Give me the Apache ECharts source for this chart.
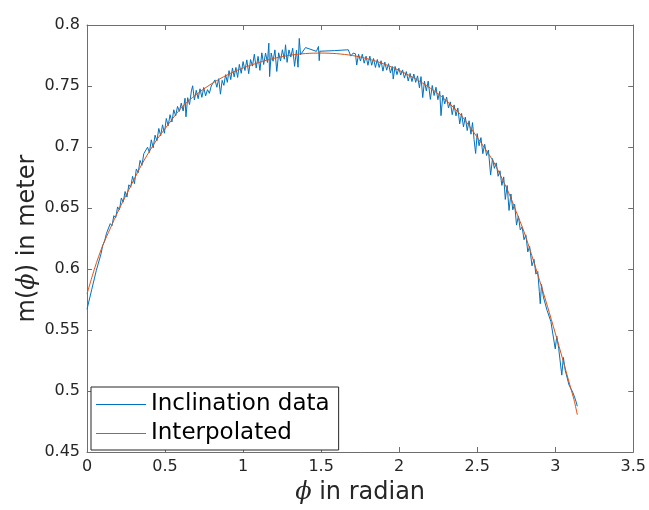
<!DOCTYPE html>
<html>
<head>
<meta charset="utf-8">
<script src="https://cdn.jsdelivr.net/npm/echarts@6/dist/echarts.min.js"></script>
<style>
html, body { margin: 0; padding: 0; background: #fff; }
#main { width: 649px; height: 510px; }
</style>
</head>
<body>
<div id="main"></div>
<script>
// measured inclination samples (phi in rad, m in meter)
var phiData = [
	0, 0.03, 0.06, 0.09, 0.10, 0.113, 0.125, 0.137, 0.149, 0.160, 0.172, 0.184, 0.196, 0.208, 0.220, 0.232,
	0.244, 0.256, 0.268, 0.280, 0.292, 0.304, 0.316, 0.328, 0.340, 0.352, 0.364, 0.376, 0.388, 0.400, 0.412, 0.424,
	0.436, 0.448, 0.460, 0.472, 0.484, 0.496, 0.508, 0.520, 0.532, 0.544, 0.556, 0.568, 0.580, 0.592, 0.604, 0.616,
	0.628, 0.634, 0.645, 0.657, 0.669, 0.677, 0.688, 0.700, 0.712, 0.724, 0.736, 0.748, 0.760, 0.772, 0.784, 0.796,
	0.808, 0.820, 0.832, 0.844, 0.855, 0.866, 0.877, 0.888, 0.899, 0.910, 0.921, 0.932, 0.943, 0.954, 0.965, 0.976,
	0.988, 1.000, 1.012, 1.024, 1.036, 1.048, 1.060, 1.072, 1.084, 1.096, 1.108, 1.120, 1.132, 1.144, 1.156, 1.165,
	1.170, 1.180, 1.192, 1.204, 1.216, 1.228, 1.240, 1.252, 1.264, 1.272, 1.282, 1.294, 1.306, 1.318, 1.330, 1.342,
	1.352, 1.360, 1.368, 1.400, 1.470, 1.483, 1.488, 1.492, 1.585, 1.595, 1.674, 1.690, 1.705, 1.720, 1.728, 1.740,
	1.752, 1.764, 1.776, 1.788, 1.800, 1.812, 1.824, 1.836, 1.848, 1.860, 1.872, 1.884, 1.896, 1.908, 1.920, 1.932,
	1.944, 1.956, 1.962, 1.974, 1.986, 1.998, 2.010, 2.022, 2.034, 2.046, 2.058, 2.070, 2.082, 2.094, 2.106, 2.118,
	2.130, 2.140, 2.151, 2.162, 2.174, 2.186, 2.200, 2.212, 2.224, 2.236, 2.248, 2.260, 2.268, 2.280, 2.292, 2.304,
	2.316, 2.328, 2.340, 2.352, 2.364, 2.376, 2.388, 2.400, 2.412, 2.424, 2.436, 2.448, 2.460, 2.470, 2.480, 2.490,
	2.500, 2.512, 2.524, 2.536, 2.548, 2.560, 2.572, 2.586, 2.598, 2.610, 2.622, 2.634, 2.646, 2.658, 2.670, 2.680,
	2.692, 2.704, 2.716, 2.728, 2.740, 2.752, 2.764, 2.776, 2.788, 2.800, 2.812, 2.824, 2.836, 2.851, 2.864, 2.876,
	2.888, 2.898, 2.904, 2.912, 2.924, 2.936, 2.948, 2.960, 2.972, 2.984, 3.000, 3.010, 3.022, 3.034, 3.042, 3.052,
	3.064, 3.076, 3.088, 3.100, 3.112, 3.124, 3.134, 3.1416
];
var inclData = [
	0.567, 0.583, 0.599, 0.6125, 0.619, 0.623, 0.6293, 0.6278, 0.6372, 0.6353, 0.6437, 0.642, 0.6509, 0.6486, 0.6582, 0.6548,
	0.6635, 0.659, 0.669, 0.667, 0.676, 0.670, 0.682, 0.679, 0.689, 0.685, 0.6946, 0.6942, 0.6998, 0.6955, 0.7059, 0.6993,
	0.7097, 0.7051, 0.7152, 0.7092, 0.7182, 0.7113, 0.7234, 0.7174, 0.7265, 0.7205, 0.7305, 0.7254, 0.7333, 0.7292, 0.736, 0.7295,
	0.740, 0.7247, 0.7404, 0.7348, 0.746, 0.7502, 0.7385, 0.7465, 0.7396, 0.7477, 0.7407, 0.7488, 0.7419, 0.747, 0.744, 0.750,
	0.749, 0.755, 0.749, 0.756, 0.7433, 0.7546, 0.7505, 0.7593, 0.753, 0.7626, 0.7552, 0.7648, 0.7575, 0.7652, 0.757, 0.7677,
	0.7604, 0.770, 0.7627, 0.7714, 0.7601, 0.7717, 0.7663, 0.776, 0.7647, 0.7743, 0.7628, 0.7772, 0.7676, 0.777, 0.7693, 0.7851,
	0.7577, 0.777, 0.7703, 0.7796, 0.7619, 0.7772, 0.7705, 0.7797, 0.772, 0.7838, 0.7694, 0.7796, 0.7738, 0.781, 0.7661, 0.7793,
	0.7654, 0.789, 0.7756, 0.7815, 0.7784, 0.7824, 0.7708, 0.7785, 0.7790, 0.7775, 0.7797, 0.7745, 0.7770, 0.7764, 0.7672, 0.776,
	0.7705, 0.776, 0.7687, 0.7744, 0.767, 0.7745, 0.767, 0.7726, 0.7652, 0.7717, 0.7652, 0.7707, 0.7622, 0.7696, 0.763, 0.7683,
	0.7607, 0.766, 0.7557, 0.766, 0.7593, 0.7646, 0.759, 0.7632, 0.7565, 0.7618, 0.7541, 0.7603, 0.7536, 0.7598, 0.753, 0.7583,
	0.7485, 0.7577, 0.7405, 0.754, 0.746, 0.754, 0.739, 0.7504, 0.7422, 0.749, 0.7388, 0.7456, 0.7257, 0.7425, 0.7353, 0.741,
	0.732, 0.737, 0.7265, 0.7345, 0.7255, 0.732, 0.719, 0.7275, 0.7165, 0.7245, 0.7135, 0.7215, 0.7105, 0.720, 0.706, 0.6947,
	0.711, 0.701, 0.7077, 0.6945, 0.7023, 0.693, 0.6975, 0.677, 0.6905, 0.6825, 0.687, 0.676, 0.6805, 0.6685, 0.6755, 0.657,
	0.6685, 0.648, 0.6615, 0.6485, 0.653, 0.636, 0.6435, 0.632, 0.6345, 0.624, 0.628, 0.614, 0.6185, 0.6026, 0.608, 0.5958,
	0.598, 0.5815, 0.5715, 0.5873, 0.577, 0.5775, 0.566, 0.567, 0.557, 0.557, 0.5345, 0.545, 0.535, 0.5355, 0.513, 0.5275,
	0.517, 0.5165, 0.505, 0.505, 0.499, 0.495, 0.491, 0.4875
];

// interpolated curve
var phiFit = [
	0, 0.05, 0.10, 0.15, 0.20, 0.25, 0.30, 0.35, 0.40, 0.45, 0.50, 0.55, 0.60, 0.65, 0.70, 0.75, 0.80, 0.85, 0.90, 0.95,
	1.0, 1.1, 1.2, 1.3, 1.4, 1.5, 1.6, 1.7, 1.8, 1.9, 2.0, 2.1, 2.2, 2.3, 2.4, 2.5, 2.55, 2.6, 2.65, 2.7, 2.75, 2.8,
	2.85, 2.9, 2.95, 3.0, 3.05, 3.1, 3.12, 3.1416
];
var fitData = [
	0.5795, 0.601, 0.619, 0.6335, 0.6475, 0.6605, 0.673, 0.6855, 0.6965, 0.7065, 0.715, 0.7235, 0.7315, 0.7378, 0.743, 0.7477,
	0.752, 0.7558, 0.7592, 0.7622, 0.7648, 0.7692, 0.7727, 0.7752, 0.7766, 0.777, 0.7765, 0.775, 0.7722, 0.7682, 0.7628, 0.7562,
	0.7482, 0.7382, 0.7255, 0.708, 0.6987, 0.689, 0.6765, 0.663, 0.647, 0.6305, 0.611, 0.5905, 0.5695, 0.5475, 0.525, 0.502,
	0.493, 0.4805
];

var seriesNames = ['Inclination data', 'Interpolated'];
var xRange = [0, 3.5, 0.5];
var yRange = [0.45, 0.8, 0.05];

var FONT = 'DejaVu Sans';
var TEXT_COLOR = '#262626';
var BOX_COLOR = '#6e6e6e';

var pairs = function(xs, ys){
	var out = [];
	for (var i = 0; i < xs.length; i++){
		out.push([xs[i], ys[i]]);
	}
	return out;
}

var makeAxis = function(range, position, showLabel, digits){
	return {
		type: 'value',
		position: position,
		min: range[0],
		max: range[1],
		interval: range[2],
		splitLine: {show: false},
		axisLine: {show: true, onZero: false, lineStyle: {color: BOX_COLOR, width: 1}},
		axisTick: {show: true, inside: true, length: 5, lineStyle: {color: BOX_COLOR}},
		axisLabel: {
			show: showLabel,
			fontFamily: FONT,
			fontSize: 16,
			color: TEXT_COLOR,
			margin: 7,
			formatter: function(v){ return String(+v.toFixed(digits)); }
		}
	};
}

var nameStyle = {
	fontFamily: FONT, fontSize: 24, color: TEXT_COLOR,
	rich: {phi: {fontFamily: 'DejaVu Serif', fontStyle: 'italic', fontSize: 24, color: TEXT_COLOR}}
};

var xBottom = makeAxis(xRange, 'bottom', true, 1);
xBottom.name = '{phi|ϕ} in radian';
xBottom.nameLocation = 'middle';
xBottom.nameGap = 29;
xBottom.nameMoveOverlap = false;
xBottom.nameTextStyle = nameStyle;

var yLeft = makeAxis(yRange, 'left', true, 2);
yLeft.name = 'm({phi|ϕ}) in meter';
yLeft.nameLocation = 'middle';
yLeft.nameGap = 47;
yLeft.nameMoveOverlap = false;
yLeft.nameTextStyle = nameStyle;

var option = {
	animation: false,
	backgroundColor: '#fff',
	grid: {left: 87, right: 12, top: 25, bottom: 54, containLabel: false},
	legend: {
		orient: 'vertical',
		left: 91,
		top: 387,
		padding: [5, 9, 4, 5],
		itemGap: 4,
		itemWidth: 50,
		itemHeight: 1,
		icon: 'rect',
		borderColor: '#262626',
		borderWidth: 1,
		borderRadius: 0,
		backgroundColor: '#fff',
		textStyle: {fontFamily: FONT, fontSize: 23, color: '#000', lineHeight: 25},
		data: seriesNames
	},
	xAxis: [xBottom, makeAxis(xRange, 'top', false, 1)],
	yAxis: [yLeft, makeAxis(yRange, 'right', false, 2)],
	series: [
		{
			name: seriesNames[0],
			type: 'line',
			symbol: 'none',
			showSymbol: false,
			lineStyle: {color: '#0072BD', width: 1},
			itemStyle: {color: '#0072BD'},
			data: pairs(phiData, inclData)
		},
		{
			name: seriesNames[1],
			type: 'line',
			symbol: 'none',
			showSymbol: false,
			smooth: 0.3,
			lineStyle: {color: '#D95319', width: 1},
			itemStyle: {color: '#D95319'},
			data: pairs(phiFit, fitData)
		}
	]
};

var chart = echarts.init(document.getElementById('main'), null, {renderer: 'canvas'});
chart.setOption(option);
</script>
</body>
</html>
